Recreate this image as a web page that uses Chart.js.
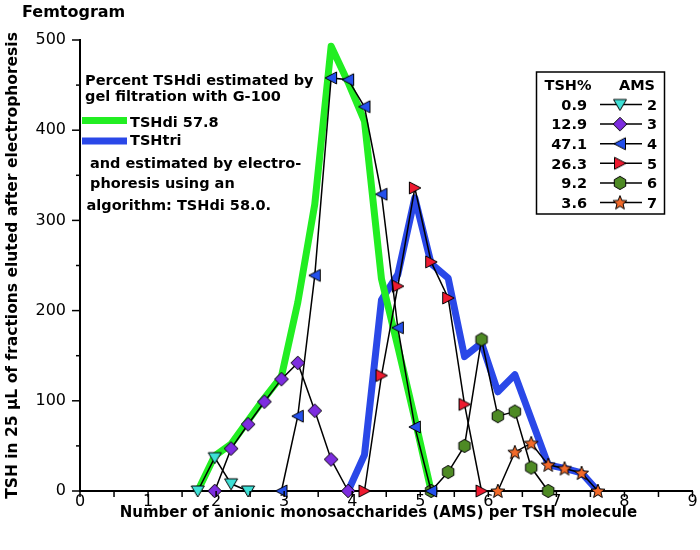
<!DOCTYPE html>
<html><head><meta charset="utf-8">
<script src="https://cdn.jsdelivr.net/npm/chart.js@4/dist/chart.umd.min.js"></script>
<style>html,body{margin:0;padding:0;background:#fff}</style>
</head><body>
<canvas id="c" width="700" height="550"></canvas>
<script>
// ---- data ----
const ams2X = [1.73, 1.98, 2.22, 2.47];
const ams2Y = [0, 37, 8, 0];
const ams3X = [1.98, 2.22, 2.47, 2.71, 2.96, 3.20, 3.45, 3.69, 3.94];
const ams3Y = [0, 47, 74, 99, 124, 142, 89, 35, 0];
const ams4X = [2.96, 3.20, 3.45, 3.69, 3.94, 4.18, 4.43, 4.67, 4.92, 5.16];
const ams4Y = [0, 83, 239, 458, 456, 426, 329, 181, 71, 0];
const ams5X = [4.18, 4.43, 4.67, 4.92, 5.16, 5.41, 5.65, 5.90];
const ams5Y = [0, 128, 227, 336, 254, 214, 96, 0];
const ams6X = [5.16, 5.41, 5.65, 5.90, 6.14, 6.39, 6.63, 6.88];
const ams6Y = [0, 21, 50, 168, 83, 88, 26, 0];
const ams7X = [6.14, 6.39, 6.63, 6.88, 7.12, 7.37, 7.61];
const ams7Y = [0, 43, 53, 29, 25, 20, 0];
const tshdiX = [1.73, 1.98, 2.22, 2.47, 2.71, 2.96, 3.20, 3.45, 3.69, 3.94, 4.18, 4.43, 4.67, 4.92, 5.16];
const tshdiY = [0, 39, 52, 78, 103, 127, 209, 318, 493, 453, 410, 235, 160, 80, 0];
const tshtriX = [3.94, 4.18, 4.43, 4.67, 4.92, 5.16, 5.41, 5.65, 5.90, 6.14, 6.39, 6.88, 7.12, 7.37, 7.61];
const tshtriY = [0, 40, 212, 240, 325, 252, 236, 149, 164, 110, 129, 29, 25, 20, 0];

const legendPercent = ['0.9', '12.9', '47.1', '26.3', '9.2', '3.6'];
const legendAms = ['2', '3', '4', '5', '6', '7'];
const xTickLabels = ['0','1','2','3','4','5','6','7','8','9'];
const yTickLabels = ['0','100','200','300','400','500'];

const annotationLines = ['Percent TSHdi estimated by', 'gel filtration with G-100'];
const annotationLines2 = ['and estimated by electro-', 'phoresis using an', 'algorithm: TSHdi 58.0.'];

const FF = '"DejaVu Sans", sans-serif';

// ---- marker images ----
function marker(kind, fill) {
  const s = 18, c = document.createElement('canvas');
  c.width = s; c.height = s;
  const g = c.getContext('2d'), m = s / 2;
  g.beginPath();
  if (kind === 'down') { g.moveTo(m - 6.5, m - 5); g.lineTo(m + 6.5, m - 5); g.lineTo(m, m + 6); }
  else if (kind === 'left') { g.moveTo(m - 6, m); g.lineTo(m + 5.5, m - 6); g.lineTo(m + 5.5, m + 6); }
  else if (kind === 'right') { g.moveTo(m + 6, m); g.lineTo(m - 5.5, m - 6); g.lineTo(m - 5.5, m + 6); }
  else if (kind === 'diamond') { g.moveTo(m, m - 6.8); g.lineTo(m + 6.8, m); g.lineTo(m, m + 6.8); g.lineTo(m - 6.8, m); }
  else if (kind === 'hex') {
    for (let k = 0; k < 6; k++) { const a = (-90 + 60 * k) * Math.PI / 180; const px = m + 6.6 * Math.cos(a), py = m + 6.6 * Math.sin(a); k ? g.lineTo(px, py) : g.moveTo(px, py); }
  } else if (kind === 'star') {
    for (let k = 0; k < 10; k++) { const r = k % 2 ? 3.2 : 7.4; const a = (-90 + 36 * k) * Math.PI / 180; const px = m + r * Math.cos(a), py = m + 0.5 + r * Math.sin(a); k ? g.lineTo(px, py) : g.moveTo(px, py); }
  }
  g.closePath();
  g.fillStyle = fill; g.fill();
  g.lineWidth = 1; g.strokeStyle = '#000'; g.lineJoin = 'miter'; g.stroke();
  return c;
}
const markers = [
  marker('down', '#3ee0d6'),
  marker('diamond', '#7d2de0'),
  marker('left', '#2450ec'),
  marker('right', '#ee1a30'),
  marker('hex', '#4e8a24'),
  marker('star', '#f26a2a')
];

const pts = (xs, ys) => xs.map((x, i) => ({ x, y: ys[i] }));
function amsSet(xs, ys, mk) {
  return { data: pts(xs, ys), borderColor: '#000', borderWidth: 1.5, pointStyle: mk, pointRadius: 6,
    tension: 0, clip: false, order: 1 };
}

const tickPlugin = {
  id: 'ticksAndText',
  afterDraw(chart) {
    const { ctx, scales: { x, y }, chartArea } = chart;
    ctx.save();
    ctx.strokeStyle = '#000'; ctx.lineWidth = 1.5;
    x.ticks.forEach(t => {
      const px = x.getPixelForValue(t.value);
      ctx.beginPath(); ctx.moveTo(px, chartArea.bottom); ctx.lineTo(px, chartArea.bottom + 6); ctx.stroke();
    });
    y.ticks.forEach(t => {
      const py = y.getPixelForValue(t.value);
      const len = t.value % 100 === 0 ? 8 : 4;
      ctx.beginPath(); ctx.moveTo(chartArea.left - len, py); ctx.lineTo(chartArea.left, py); ctx.stroke();
    });

    // Femtogram
    ctx.fillStyle = '#000';
    ctx.textBaseline = 'alphabetic';
    ctx.textAlign = 'left';
    ctx.font = 'bold 16px ' + FF;
    ctx.fillText('Femtogram', 22, 16.5);

    // annotation
    ctx.font = 'bold 14.5px ' + FF;
    ctx.fillText(annotationLines[0], 85, 85.3);
    ctx.fillText(annotationLines[1], 85, 101.3);
    ctx.lineWidth = 7; ctx.lineCap = 'butt';
    ctx.strokeStyle = '#22ee22';
    ctx.beginPath(); ctx.moveTo(82, 120.5); ctx.lineTo(127, 120.5); ctx.stroke();
    ctx.strokeStyle = '#2a48e8';
    ctx.beginPath(); ctx.moveTo(82, 141); ctx.lineTo(127, 141); ctx.stroke();
    ctx.fillText('TSHdi 57.8', 130, 126.5);
    ctx.fillText('TSHtri', 130, 145.3);
    ctx.fillText(annotationLines2[0], 90, 167.5);
    ctx.fillText(annotationLines2[1], 90, 188);
    ctx.fillText(annotationLines2[2], 86.5, 210.3);

    // legend box
    ctx.lineWidth = 1.5; ctx.strokeStyle = '#000';
    ctx.strokeRect(536.5, 72, 128, 142);
    ctx.textAlign = 'center';
    ctx.fillText('TSH%', 568, 89.5);
    ctx.fillText('AMS', 637, 89.5);
    for (let i = 0; i < 6; i++) {
      const cy = 104.5 + i * 19.6;
      ctx.textAlign = 'right';
      ctx.fillText(legendPercent[i], 587, cy + 5.3);
      ctx.textAlign = 'center';
      ctx.fillText(legendAms[i], 652, cy + 5.3);
      ctx.lineWidth = 1.5;
      ctx.beginPath(); ctx.moveTo(600, cy); ctx.lineTo(642, cy); ctx.stroke();
      const mk = markers[i];
      ctx.drawImage(mk, 620 - mk.width / 2, cy - mk.height / 2);
    }
    ctx.restore();
  }
};

new Chart(document.getElementById('c'), {
  type: 'line',
  data: {
    datasets: [
      amsSet(ams2X, ams2Y, markers[0]),
      amsSet(ams3X, ams3Y, markers[1]),
      amsSet(ams4X, ams4Y, markers[2]),
      amsSet(ams5X, ams5Y, markers[3]),
      amsSet(ams6X, ams6Y, markers[4]),
      amsSet(ams7X, ams7Y, markers[5]),
      { data: pts(tshdiX, tshdiY), borderColor: '#22ee22', borderWidth: 7, pointRadius: 0,
        tension: 0, borderJoinStyle: 'round', clip: false, order: 5 },
      { data: pts(tshtriX, tshtriY), borderColor: '#2a48e8', borderWidth: 7, pointRadius: 0,
        tension: 0, borderJoinStyle: 'round', clip: false, order: 5 }
    ]
  },
  options: {
    responsive: false, animation: false, devicePixelRatio: 1,
    layout: { padding: { top: 40, right: 6, left: 0, bottom: 0 } },
    plugins: { legend: { display: false }, tooltip: { enabled: false } },
    scales: {
      x: {
        type: 'linear', min: 0, max: 9,
        border: { display: true, color: '#000', width: 2 },
        grid: { display: false, drawTicks: false },
        ticks: { stepSize: 0.5, autoSkip: false, maxRotation: 0, padding: 1, color: '#000',
          font: { family: FF, size: 16 },
          callback: v => Number.isInteger(v) ? xTickLabels[v] : '' },
        title: { display: true, text: 'Number of anionic monosaccharides (AMS) per TSH molecule\u00a0\u00a0\u00a0', color: '#000',
          font: { family: FF, size: 15, weight: 'bold' }, padding: { top: 0, bottom: 28 } },
        afterFit: s => { s.height = 59; }
      },
      y: {
        type: 'linear', min: 0, max: 500,
        border: { display: true, color: '#000', width: 2 },
        grid: { display: false, drawTicks: false },
        ticks: { stepSize: 50, padding: 14, color: '#000', font: { family: FF, size: 16 },
          callback: v => v % 100 === 0 ? yTickLabels[v / 100] : '' },
        title: { display: true, text: 'TSH in 25 µL of fractions eluted after electrophoresis', color: '#000',
          font: { family: FF, size: 15.5, weight: 'bold' }, padding: { top: 4, bottom: 0 } },
        afterFit: s => { s.width = 80; }
      }
    }
  },
  plugins: [tickPlugin]
});
</script>
</body></html>
